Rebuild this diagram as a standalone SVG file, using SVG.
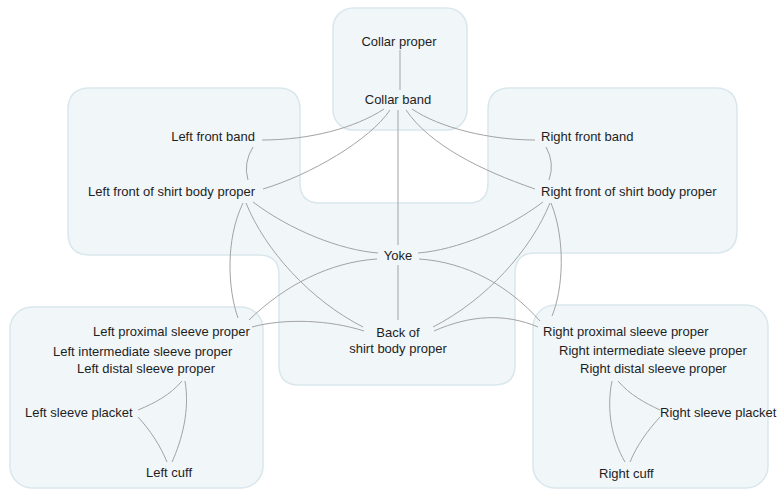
<svg xmlns="http://www.w3.org/2000/svg" width="778" height="494" viewBox="0 0 778 494">
<defs>
<style>
.box{fill:#f1f6f9;stroke:#d9e7ed;stroke-width:1.5}
.c{fill:none;stroke:#a3a3a3;stroke-width:1}
text{font-family:"Liberation Sans",Arial,sans-serif;font-size:13px;fill:#1e1e1e}
.m{text-anchor:middle}
.e{text-anchor:end}
</style>
</defs>
<g id="regions">
<path id="region-body" class="box" d="M90,88 H278 Q300,88 300,110 V183 Q300,203 320,203 H468 Q488,203 488,183 V110 Q488,88 510,88 H715 Q737,88 737,110 V231 Q737,253 715,253 H535 Q515,253 515,273 V365 Q515,385 495,385 H299 Q279,385 279,365 V275 Q279,255 259,255 H90 Q68,255 68,233 V110 Q68,88 90,88 Z"/>
<rect id="region-collar" class="box" x="333" y="8" width="134" height="122" rx="20"/>
<rect id="region-left-sleeve" class="box" x="10" y="307" width="253" height="181" rx="22"/>
<rect id="region-right-sleeve" class="box" x="533" y="305" width="235" height="183" rx="22"/>
</g>
<g id="connectors">
<path class="c" d="M400,50 V90"/>
<path class="c" d="M262,140 C310,140 355,128 384,109"/>
<path class="c" d="M263,189 C310,175 370,140 390,110"/>
<path class="c" d="M398,110 V245"/>
<path class="c" d="M535,140 C490,140 440,128 412,109"/>
<path class="c" d="M535,189 C480,170 430,145 406,110"/>
<path class="c" d="M253,147 Q243,163 248,180"/>
<path class="c" d="M546,147 Q555,163 549,180"/>
<path class="c" d="M253,202 C290,230 340,250 378,253"/>
<path class="c" d="M246,203 C265,250 310,300 363,327"/>
<path class="c" d="M243,203 C225,240 228,290 238,318"/>
<path class="c" d="M543,202 C506,230 456,250 418,253"/>
<path class="c" d="M398,265 V320"/>
<path class="c" d="M377,259 C330,262 285,285 249,320"/>
<path class="c" d="M419,259 C466,262 508,285 540,321"/>
<path class="c" d="M550,203 C531,250 486,300 433,327"/>
<path class="c" d="M551,203 C566,240 563,290 552,316"/>
<path class="c" d="M252,327 C285,318 330,320 364,331"/>
<path class="c" d="M434,331 C470,315 505,313 538,327"/>
<path class="c" d="M182,381 C170,395 155,403 138,410"/>
<path class="c" d="M185,381 C190,410 182,440 172,462"/>
<path class="c" d="M138,417 C150,430 160,445 167,462"/>
<path class="c" d="M612,381 C606,410 612,440 625,462"/>
<path class="c" d="M618,381 C630,395 645,403 660,410"/>
<path class="c" d="M660,417 C648,430 637,445 630,462"/>
</g>
<g id="n-collar-proper"><text class="m" x="399" y="46">Collar proper</text></g>
<g id="n-collar-band"><text class="m" x="398" y="104">Collar band</text></g>
<g id="n-left-front-band"><text class="e" x="255" y="141">Left front band</text></g>
<g id="n-left-front-body"><text class="e" x="255" y="196">Left front of shirt body proper</text></g>
<g id="n-right-front-band"><text x="541" y="141">Right front band</text></g>
<g id="n-right-front-body"><text x="541" y="196">Right front of shirt body proper</text></g>
<g id="n-yoke"><text class="m" x="398" y="260">Yoke</text></g>
<g id="n-back"><text class="m" x="398" y="337">Back of</text><text class="m" x="398" y="353">shirt body proper</text></g>
<g id="n-left-proximal"><text x="93" y="336">Left proximal sleeve proper</text></g>
<g id="n-left-intermediate"><text x="53" y="356">Left intermediate sleeve proper</text></g>
<g id="n-left-distal"><text x="77" y="373">Left distal sleeve proper</text></g>
<g id="n-left-placket"><text x="25" y="417">Left sleeve placket</text></g>
<g id="n-left-cuff"><text x="146" y="477">Left cuff</text></g>
<g id="n-right-proximal"><text x="543" y="336">Right proximal sleeve proper</text></g>
<g id="n-right-intermediate"><text x="559" y="355">Right intermediate sleeve proper</text></g>
<g id="n-right-distal"><text x="580" y="373">Right distal sleeve proper</text></g>
<g id="n-right-placket"><text x="660" y="417">Right sleeve placket</text></g>
<g id="n-right-cuff"><text x="599" y="478">Right cuff</text></g>
</svg>
